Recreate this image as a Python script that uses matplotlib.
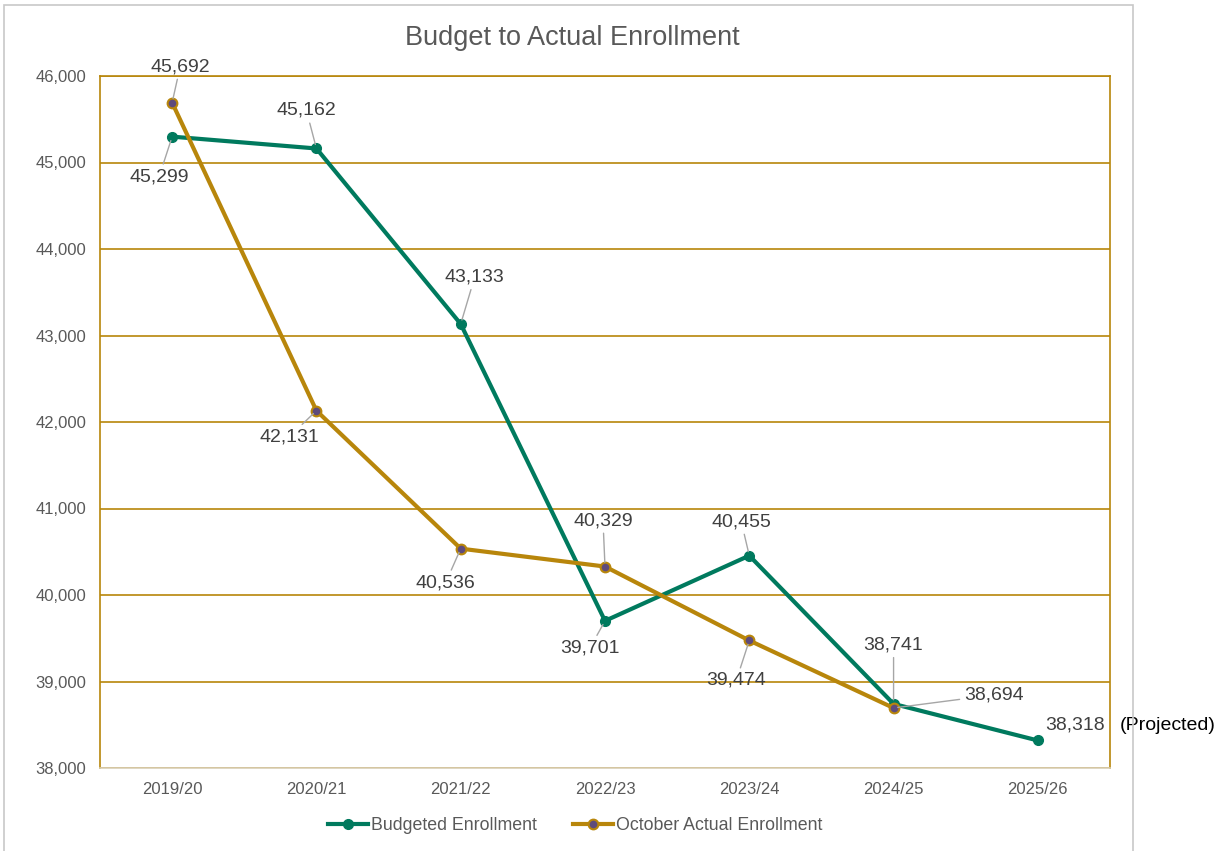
import matplotlib.pyplot as plt
from matplotlib.patches import Rectangle
from matplotlib.lines import Line2D

years = ["2019/20", "2020/21", "2021/22", "2022/23", "2023/24", "2024/25", "2025/26"]
budgeted = [45299, 45162, 43133, 39701, 40455, 38741, 38318]
actual = [45692, 42131, 40536, 40329, 39474, 38694]

# label offsets in pixels (dx, dy), leader line or not
budget_offsets = [(-13, -40, True), (-10, 38, True), (14, 47, True), (-15, -27, True),
                  (-8, 34, True), (0, 59, True), (37, 15, False)]
actual_offsets = [(8, 36, True), (-27, -26, True), (-15, -34, True), (-2, 46, True),
                  (-13, -40, True), (100, 13, True)]

green = "#007A5E"
gold = "#B8860B"
purple = "#5E4B7C"
txt = "#404040"

plt.rcParams['font.family'] = ['Liberation Sans', 'DejaVu Sans']

fig = plt.figure(figsize=(12.19, 8.51), dpi=100)
ax = fig.add_axes([100 / 1219, 83 / 851, 1010 / 1219, 692 / 851])

x = list(range(len(years)))
ax.plot(x, budgeted, color=green, lw=3, marker='o', ms=7, mfc=green, mec=green, zorder=3)
ax.plot(x[:len(actual)], actual, color=gold, lw=3, marker='o', ms=7, mfc=purple, mec=gold,
        mew=1.5, zorder=4)

for xi, v, (dx, dy, lead) in zip(x, budgeted, budget_offsets):
    ap = dict(arrowstyle='-', color='#A6A6A6', lw=1, shrinkA=1, shrinkB=3) if lead else None
    ax.annotate(f"{v:,}", (xi, v), xytext=(dx, dy), textcoords='offset pixels',
                ha='center', va='center', fontsize=14, color=txt, arrowprops=ap, zorder=5)
for xi, v, (dx, dy, lead) in zip(x, actual, actual_offsets):
    ap = dict(arrowstyle='-', color='#A6A6A6', lw=1, shrinkA=1, shrinkB=3) if lead else None
    ax.annotate(f"{v:,}", (xi, v), xytext=(dx, dy), textcoords='offset pixels',
                ha='center', va='center', fontsize=14, color=txt, arrowprops=ap, zorder=5)

ax.annotate("(Projected)", (x[-1], budgeted[-1]), xytext=(130, 15), textcoords='offset pixels',
            ha='center', va='center', fontsize=14, color='black', annotation_clip=False)

ax.set_xlim(-0.5, 6.5)
ax.set_ylim(38000, 46000)
ax.set_yticks(range(38000, 46001, 1000))
ax.set_yticklabels([f"{t:,}" for t in range(38000, 46001, 1000)])
ax.set_xticks(x)
ax.set_xticklabels(years)
ax.tick_params(length=0, labelsize=12, colors='#595959', pad=10)
ax.tick_params(axis='y', pad=10)
ax.grid(axis='y', color=gold, lw=1.2)
ax.set_axisbelow(True)
for s in ['left', 'top', 'right']:
    ax.spines[s].set_color(gold)
    ax.spines[s].set_linewidth(1.2)
ax.spines['bottom'].set_color('#D9D0B8')
ax.spines['bottom'].set_linewidth(1.2)

fig.text(572 / 1219, 1 - 38 / 851, "Budget to Actual Enrollment", ha='center', va='center',
         fontsize=19.5, color='#595959')

handles = [Line2D([], [], color=green, lw=3, marker='o', ms=7, mfc=green, mec=green),
           Line2D([], [], color=gold, lw=3, marker='o', ms=7, mfc=purple, mec=gold, mew=1.5)]
fig.legend(handles, ["Budgeted Enrollment", "October Actual Enrollment"], loc='center',
           bbox_to_anchor=(575 / 1219, 1 - 826 / 851), ncol=2, frameon=False, fontsize=12.8,
           handlelength=2.3, handletextpad=0.15, columnspacing=2.0, labelcolor='#595959')

fig.patches.append(Rectangle((4 / 1219, -0.05), 1129 / 1219, 1.05 - 5 / 851,
                             transform=fig.transFigure, fill=False, ec='#C8C8C8', lw=1.2))

fig.savefig("out.png", dpi=100)
